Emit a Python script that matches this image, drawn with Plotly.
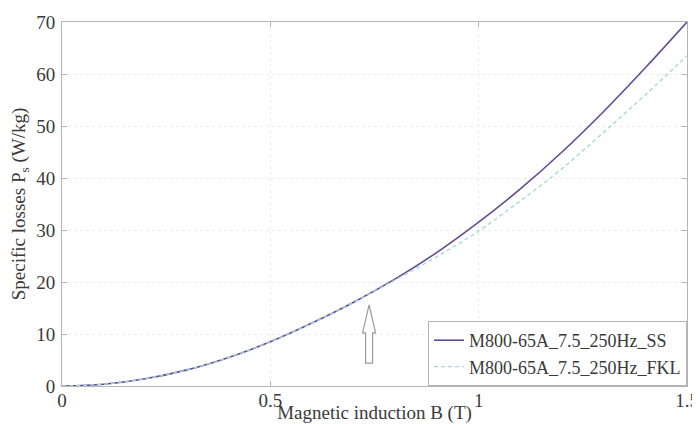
import plotly.graph_objects as go

# Data
B = [0, 0.1, 0.2, 0.3, 0.4, 0.5, 0.6, 0.7, 0.8, 0.9, 1.0, 1.1, 1.2, 1.3, 1.4, 1.5]
P_SS = [0, 0.35, 1.4, 3.1, 5.5, 8.5, 12.1, 16.1, 20.6, 25.7, 31.5, 37.9, 45.0, 52.8, 61.2, 70.0]
P_FKL = [0, 0.35, 1.4, 3.1, 5.5, 8.5, 12.1, 16.1, 20.4, 24.9, 29.8, 35.6, 41.8, 48.8, 56.0, 63.5]
name_SS = "M800-65A_7.5_250Hz_SS"
name_FKL = "M800-65A_7.5_250Hz_FKL"
x_ticks = [0, 0.5, 1, 1.5]
x_labels = ["0", "0.5", "1", "1.5"]
y_ticks = [0, 10, 20, 30, 40, 50, 60, 70]

# Arrow annotation (data coords)
arrow_x = 0.737
arrow_tip = 15.6
arrow_head_base = 10.2
arrow_bottom = 4.4
head_hw = 0.0156
shaft_hw = 0.0084

font_family = "Liberation Serif, Times New Roman, serif"
axis_col = "#b4b4b4"
text_col = "#3a3a3a"

fig = go.Figure()
fig.add_trace(go.Scatter(x=B, y=P_SS, mode="lines", name=name_SS,
                         line=dict(color="#634a96", width=1.6, shape="spline")))
fig.add_trace(go.Scatter(x=B, y=P_FKL, mode="lines", name=name_FKL,
                         line=dict(color="#a6d8dc", width=1.4, dash="4px,3px", shape="spline")))

path = (f"M {arrow_x} {arrow_tip} "
        f"L {arrow_x + head_hw} {arrow_head_base} "
        f"L {arrow_x + shaft_hw} {arrow_head_base} "
        f"L {arrow_x + shaft_hw} {arrow_bottom} "
        f"L {arrow_x - shaft_hw} {arrow_bottom} "
        f"L {arrow_x - shaft_hw} {arrow_head_base} "
        f"L {arrow_x - head_hw} {arrow_head_base} Z")
fig.add_shape(type="path", path=path, xref="x", yref="y",
              line=dict(color="#9a9a9a", width=1.2), fillcolor="white")

# page body has an 8px margin, so the figure is sized 8px smaller
fig.update_layout(
    width=692, height=416,
    margin=dict(l=54, r=13, t=14, b=38),
    paper_bgcolor="white", plot_bgcolor="white",
    font=dict(family=font_family, size=19, color=text_col),
    showlegend=True,
    legend=dict(x=1, y=0, xanchor="right", yanchor="bottom",
                bgcolor="white", bordercolor=axis_col, borderwidth=1,
                font=dict(size=18, color=text_col),
                tracegroupgap=0, itemwidth=30,
                ),
)
fig.update_xaxes(range=[0, 1.5], tickvals=x_ticks, ticktext=x_labels,
                 automargin=False,
                 showline=True, linecolor=axis_col, linewidth=1, mirror="ticks",
                 ticks="inside", ticklen=5, tickcolor=axis_col, ticklabelstandoff=-3,
                 showgrid=True, gridcolor="#ececec", griddash="dot", gridwidth=1,
                 zeroline=False,
                 title=dict(text="Magnetic induction B (T)", standoff=5,
                            font=dict(size=19)))
fig.update_yaxes(range=[0, 70], tickvals=y_ticks,
                 automargin=False,
                 showline=True, linecolor=axis_col, linewidth=1, mirror="ticks",
                 ticks="inside", ticklen=5, tickcolor=axis_col, ticklabelstandoff=2,
                 showgrid=True, gridcolor="#ececec", griddash="dot", gridwidth=1,
                 zeroline=False,
                 title=dict(text="Specific losses P<sub>s</sub> (W/kg)", standoff=8,
                            font=dict(size=19)))

fig.write_html("out.html")
